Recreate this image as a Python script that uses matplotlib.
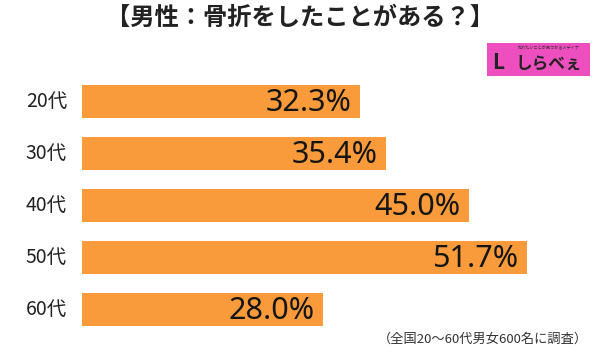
import matplotlib
matplotlib.use("Agg")
import matplotlib.pyplot as plt

plt.rcParams['font.family'] = ['Noto Sans CJK JP', 'DejaVu Sans']

title = "【男性：骨折をしたことがある？】"
categories = ["20代", "30代", "40代", "50代", "60代"]
values = [32.3, 35.4, 45.0, 51.7, 28.0]
note = "（全国20〜60代男女600名に調査）"

bar_color = "#f99b3b"

fig = plt.figure(figsize=(6, 3.56), dpi=100)
W, H = 600, 356

# axes: left at 82px, top 75.5px, bottom 335.5px
ax = fig.add_axes([82 / W, (H - 335.5) / H, 518 / W, 260 / H])
ax.set_xlim(0, 518 / 8.6)
ax.set_ylim(len(categories) - 0.5, -0.5)

ys = list(range(len(categories)))
ax.barh(ys, values, height=0.63, color=bar_color)

for y, v in zip(ys, values):
    ax.text(v - 1.0, y + 0.03, f"{v:.1f}%", ha="right", va="center",
            fontsize=22, fontweight="medium", color="#151515",
            family=['Noto Sans', 'DejaVu Sans'])

for y, c in zip(ys, categories):
    fig.text(67 / W, 1 - (101.5 + 52 * y) / H, c, ha="right", va="center",
             fontsize=14, color="#222222")

ax.axis("off")

fig.text(0.5, 1 - 18 / H, title, ha="center", va="center",
         fontsize=17.5, fontweight="bold", color="#222222")

fig.text(588 / W, 1 - 339 / H, note, ha="right", va="center",
         fontsize=9.5, color="#333333")

# logo
logo = fig.add_axes([487 / W, (H - 76) / H, 103 / W, 33 / H])
logo.set_xlim(0, 1)
logo.set_ylim(0, 1)
logo.axis("off")
logo.add_patch(plt.Rectangle((0, 0), 1, 1, color="#ee4fbf"))
logo.text(0.6, 0.84, "知りたいことが見つかるメディア", ha="center", va="center",
          fontsize=3, color="#333333")
logo.text(0.6, 0.38, "しらべぇ", ha="center", va="center",
          fontsize=12, fontweight="bold", color="#222222")
logo.text(0.11, 0.42, "L", ha="center", va="center",
          fontsize=15, fontweight="bold", color="#222222")

fig.savefig("out.png", dpi=100, facecolor="white")
